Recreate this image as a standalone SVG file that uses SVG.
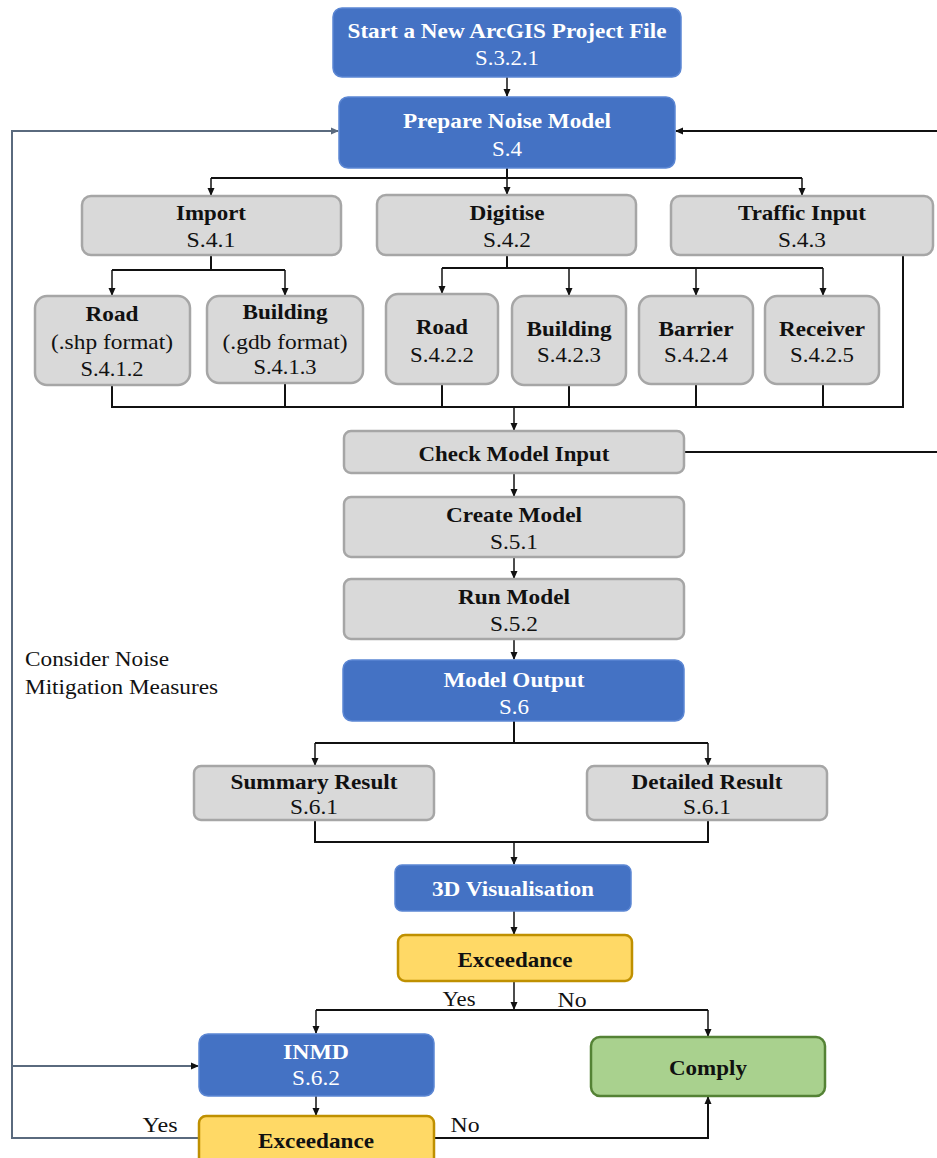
<svg xmlns="http://www.w3.org/2000/svg" width="937" height="1158" viewBox="0 0 937 1158" font-family="'Liberation Serif', 'DejaVu Serif', serif">
<style>
text{font-family:'Liberation Serif','DejaVu Serif',serif;font-size:21px;text-anchor:middle}
.b{font-weight:bold}
.w{fill:#fff}
.k{fill:#111}
.blue{fill:#4472C4;stroke:#5B86D3;stroke-width:1.5}
.grey{fill:#D9D9D9;stroke:#A6A6A6;stroke-width:2.5}
.yel{fill:#FFD966;stroke:#BF9000;stroke-width:2.5}
.grn{fill:#A9D18E;stroke:#548235;stroke-width:2.5}
.c{fill:none;stroke:#111;stroke-width:2}
.c1{fill:none;stroke:#111;stroke-width:1.5}
.g{fill:none;stroke:#5A6A7E;stroke-width:2}
.lbl{text-anchor:start;font-size:20px;fill:#111}
</style>
<defs>
<marker id="a" markerWidth="8" markerHeight="8" refX="7" refY="4" orient="auto" markerUnits="userSpaceOnUse"><path d="M0,0.5 L8,4 L0,7.5 Z" fill="#111"/></marker>
<marker id="ag" markerWidth="8" markerHeight="8" refX="7" refY="4" orient="auto" markerUnits="userSpaceOnUse"><path d="M0,0.5 L8,4 L0,7.5 Z" fill="#5A6A7E"/></marker>
</defs>
<g id="connectors">
<path class="c1" d="M507,77 V96" marker-end="url(#a)"/>
<path class="g" d="M199,1138 H12 V131 H338" marker-end="url(#ag)"/>
<path class="g" d="M12,1066 H198" marker-end="url(#a)"/>
<path class="c" d="M937,131 H676" marker-end="url(#a)"/>
<path class="c" d="M507,168 V178 M211,178 H802"/>
<path class="c1" d="M211,178 V195" marker-end="url(#a)"/>
<path class="c1" d="M507,178 V194" marker-end="url(#a)"/>
<path class="c1" d="M802,178 V195" marker-end="url(#a)"/>
<path class="c" d="M211,255 V270 M112,270 H285"/>
<path class="c1" d="M112,270 V295" marker-end="url(#a)"/>
<path class="c1" d="M285,270 V295" marker-end="url(#a)"/>
<path class="c" d="M507,255 V268 M442,268 H823"/>
<path class="c1" d="M442,268 V293" marker-end="url(#a)"/>
<path class="c1" d="M569,268 V295" marker-end="url(#a)"/>
<path class="c1" d="M696,268 V295" marker-end="url(#a)"/>
<path class="c1" d="M823,268 V295" marker-end="url(#a)"/>
<path class="c" d="M903,255 V407 H112 V385 M285,407 V383 M442,407 V384 M569,407 V385 M696,407 V384 M823,407 V384"/>
<path class="c1" d="M514,407 V430" marker-end="url(#a)"/>
<path class="c" d="M684,452 H937"/>
<path class="c1" d="M514,473 V496" marker-end="url(#a)"/>
<path class="c1" d="M514,557 V578" marker-end="url(#a)"/>
<path class="c1" d="M514,639 V659" marker-end="url(#a)"/>
<path class="c" d="M514,721 V743 M315,743 H708"/>
<path class="c1" d="M315,743 V765" marker-end="url(#a)"/>
<path class="c1" d="M708,743 V765" marker-end="url(#a)"/>
<path class="c" d="M315,820 V842 H708 V820"/>
<path class="c1" d="M514,842 V864" marker-end="url(#a)"/>
<path class="c1" d="M514,911 V934" marker-end="url(#a)"/>
<path class="c1" d="M514,981 V1009" marker-end="url(#a)"/>
<path class="c" d="M316,1010 H708"/>
<path class="c1" d="M316,1010 V1033" marker-end="url(#a)"/>
<path class="c1" d="M708,1010 V1036" marker-end="url(#a)"/>
<path class="c1" d="M316,1096 V1115" marker-end="url(#a)"/>
<path class="c" d="M434,1138 H708 V1097" marker-end="url(#a)"/>
<text class="k" x="459" y="1006" textLength="33" lengthAdjust="spacingAndGlyphs">Yes</text>
<text class="k" x="572" y="1007" textLength="29" lengthAdjust="spacingAndGlyphs">No</text>
<text class="k" x="160" y="1132" textLength="35" lengthAdjust="spacingAndGlyphs">Yes</text>
<text class="k" x="465" y="1132" textLength="29" lengthAdjust="spacingAndGlyphs">No</text>
<text class="lbl" x="25" y="666" textLength="144" lengthAdjust="spacingAndGlyphs">Consider Noise</text>
<text class="lbl" x="25" y="694" textLength="193" lengthAdjust="spacingAndGlyphs">Mitigation Measures</text>
</g>
<g id="start"><rect class="blue" x="333" y="8" width="348" height="69" rx="9"/><text class="b w" x="507" y="38" textLength="319" lengthAdjust="spacingAndGlyphs">Start a New ArcGIS Project File</text><text class="w" x="507" y="65" textLength="64" lengthAdjust="spacingAndGlyphs">S.3.2.1</text></g>
<g id="prepare"><rect class="blue" x="339" y="97" width="336" height="71" rx="9"/><text class="b w" x="507" y="128" textLength="208" lengthAdjust="spacingAndGlyphs">Prepare Noise Model</text><text class="w" x="507" y="156" textLength="30" lengthAdjust="spacingAndGlyphs">S.4</text></g>
<g id="import"><rect class="grey" x="82" y="196" width="259" height="59" rx="9"/><text class="b k" x="211" y="220" textLength="70" lengthAdjust="spacingAndGlyphs">Import</text><text class="k" x="211" y="247" textLength="49" lengthAdjust="spacingAndGlyphs">S.4.1</text></g>
<g id="digitise"><rect class="grey" x="377" y="195" width="259" height="60" rx="9"/><text class="b k" x="507" y="220" textLength="75" lengthAdjust="spacingAndGlyphs">Digitise</text><text class="k" x="507" y="247" textLength="48" lengthAdjust="spacingAndGlyphs">S.4.2</text></g>
<g id="traffic"><rect class="grey" x="671" y="196" width="262" height="59" rx="9"/><text class="b k" x="802" y="220" textLength="128" lengthAdjust="spacingAndGlyphs">Traffic Input</text><text class="k" x="802" y="247" textLength="48" lengthAdjust="spacingAndGlyphs">S.4.3</text></g>
<g id="road-shp"><rect class="grey" x="35" y="296" width="155" height="89" rx="12"/><text class="b k" x="112" y="321" textLength="53" lengthAdjust="spacingAndGlyphs">Road</text><text class="k" x="112" y="349" textLength="122" lengthAdjust="spacingAndGlyphs">(.shp format)</text><text class="k" x="112" y="376" textLength="63" lengthAdjust="spacingAndGlyphs">S.4.1.2</text></g>
<g id="building-gdb"><rect class="grey" x="207" y="296" width="156" height="87" rx="12"/><text class="b k" x="285" y="319" textLength="85" lengthAdjust="spacingAndGlyphs">Building</text><text class="k" x="285" y="349" textLength="125" lengthAdjust="spacingAndGlyphs">(.gdb format)</text><text class="k" x="285" y="374" textLength="63" lengthAdjust="spacingAndGlyphs">S.4.1.3</text></g>
<g id="road-dig"><rect class="grey" x="386" y="294" width="112" height="90" rx="12"/><text class="b k" x="442" y="334" textLength="52" lengthAdjust="spacingAndGlyphs">Road</text><text class="k" x="442" y="362" textLength="64" lengthAdjust="spacingAndGlyphs">S.4.2.2</text></g>
<g id="building-dig"><rect class="grey" x="512" y="296" width="114" height="89" rx="12"/><text class="b k" x="569" y="336" textLength="85" lengthAdjust="spacingAndGlyphs">Building</text><text class="k" x="569" y="362" textLength="64" lengthAdjust="spacingAndGlyphs">S.4.2.3</text></g>
<g id="barrier"><rect class="grey" x="639" y="296" width="114" height="88" rx="12"/><text class="b k" x="696" y="336" textLength="75" lengthAdjust="spacingAndGlyphs">Barrier</text><text class="k" x="696" y="362" textLength="64" lengthAdjust="spacingAndGlyphs">S.4.2.4</text></g>
<g id="receiver"><rect class="grey" x="765" y="296" width="114" height="88" rx="12"/><text class="b k" x="822" y="336" textLength="86" lengthAdjust="spacingAndGlyphs">Receiver</text><text class="k" x="822" y="362" textLength="64" lengthAdjust="spacingAndGlyphs">S.4.2.5</text></g>
<g id="check"><rect class="grey" x="344" y="431" width="340" height="42" rx="7"/><text class="b k" x="514" y="461" textLength="191" lengthAdjust="spacingAndGlyphs">Check Model Input</text></g>
<g id="create"><rect class="grey" x="344" y="497" width="340" height="60" rx="7"/><text class="b k" x="514" y="522" textLength="136" lengthAdjust="spacingAndGlyphs">Create Model</text><text class="k" x="514" y="549" textLength="48" lengthAdjust="spacingAndGlyphs">S.5.1</text></g>
<g id="run"><rect class="grey" x="344" y="579" width="340" height="60" rx="7"/><text class="b k" x="514" y="604" textLength="112" lengthAdjust="spacingAndGlyphs">Run Model</text><text class="k" x="514" y="631" textLength="48" lengthAdjust="spacingAndGlyphs">S.5.2</text></g>
<g id="output"><rect class="blue" x="343" y="660" width="341" height="61" rx="9"/><text class="b w" x="514" y="687" textLength="141" lengthAdjust="spacingAndGlyphs">Model Output</text><text class="w" x="514" y="714" textLength="30" lengthAdjust="spacingAndGlyphs">S.6</text></g>
<g id="summary"><rect class="grey" x="194" y="766" width="240" height="54" rx="7"/><text class="b k" x="314" y="789" textLength="167" lengthAdjust="spacingAndGlyphs">Summary Result</text><text class="k" x="314" y="814" textLength="48" lengthAdjust="spacingAndGlyphs">S.6.1</text></g>
<g id="detailed"><rect class="grey" x="587" y="766" width="240" height="54" rx="7"/><text class="b k" x="707" y="789" textLength="151" lengthAdjust="spacingAndGlyphs">Detailed Result</text><text class="k" x="707" y="814" textLength="48" lengthAdjust="spacingAndGlyphs">S.6.1</text></g>
<g id="vis"><rect class="blue" x="395" y="865" width="236" height="46" rx="7"/><text class="b w" x="513" y="896" textLength="162" lengthAdjust="spacingAndGlyphs">3D Visualisation</text></g>
<g id="exceed1"><rect class="yel" x="398" y="935" width="234" height="46" rx="7"/><text class="b k" x="515" y="967" textLength="115" lengthAdjust="spacingAndGlyphs">Exceedance</text></g>
<g id="inmd"><rect class="blue" x="199" y="1034" width="235" height="62" rx="9"/><text class="b w" x="316" y="1059" textLength="66" lengthAdjust="spacingAndGlyphs">INMD</text><text class="w" x="316" y="1085" textLength="48" lengthAdjust="spacingAndGlyphs">S.6.2</text></g>
<g id="comply"><rect class="grn" x="591" y="1037" width="234" height="59" rx="9"/><text class="b k" x="708" y="1075" textLength="78" lengthAdjust="spacingAndGlyphs">Comply</text></g>
<g id="exceed2"><rect class="yel" x="199" y="1116" width="235" height="52" rx="7"/><text class="b k" x="316" y="1148" textLength="116" lengthAdjust="spacingAndGlyphs">Exceedance</text></g>
</svg>
